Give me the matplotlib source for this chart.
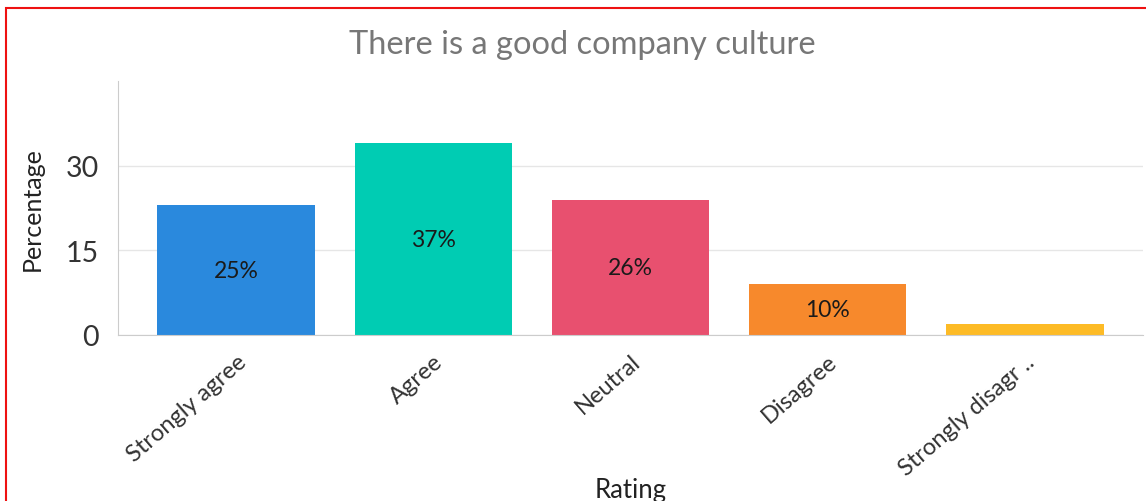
import matplotlib as mpl
import matplotlib.pyplot as plt
from matplotlib.patches import Rectangle

mpl.rcParams.update({"font.family": ["Lato", "DejaVu Sans"]})

# responses per rating; in-bar labels are each bar's share of the total
ratings = ["Strongly agree", "Agree", "Neutral", "Disagree", "Strongly disagr .."]
counts = [23, 34, 24, 9, 2]
colors = ["#2a89dd", "#00ccb3", "#e8506f", "#f7892c", "#fdbb26"]
yticks = [0, 15, 30]

fig = plt.figure(figsize=(11.46, 5.02), dpi=100)
ax = fig.add_axes([118 / 1146, 1 - 336 / 502, (1143 - 118) / 1146, (336 - 82) / 502])

x = range(len(ratings))
ax.bar(x, counts, width=0.8, color=colors, zorder=2)
total = sum(counts)
for i, c in enumerate(counts):
    if c / total >= 0.05:
        ax.text(i, c / 2, f"{c / total * 100:.0f}%", ha="center", va="center",
                fontsize=16.5, color="#1a1a1a", zorder=3)

ax.set_xlim(-0.6, 4.6)
ax.set_ylim(0, 45)
ax.set_yticks(yticks)
ax.set_yticklabels([str(t) for t in yticks], fontsize=20.5, color="#333333")
ax.set_xticks(list(x))
ax.set_xticklabels(ratings, rotation=41, ha="right", rotation_mode="anchor",
                   fontsize=17, color="#333333")
ax.tick_params(axis="y", length=0, pad=14)
ax.tick_params(axis="x", length=0, pad=11)
ax.grid(axis="y", color="#e6e6e6", lw=1, zorder=0)
for s in ("top", "right"):
    ax.spines[s].set_visible(False)
for s in ("left", "bottom"):
    ax.spines[s].set_color("#cccccc")
ax.set_ylabel("Percentage", fontsize=18, color="#222222")
ax.yaxis.set_label_coords(-0.072, 0.5)
fig.text(631 / 1146, 1 - 491 / 502, "Rating", ha="center", va="center",
         fontsize=18.5, color="#222222")

fig.text(582 / 1146, 1 - 45 / 502, "There is a good company culture", ha="center",
         va="center", fontsize=23.5, color="#777777")

# red frame around the panel, cropped on the right and bottom
fig.patches.append(Rectangle((6 / 1146, -0.1), 1.2, 1 - 9 / 502 + 0.1,
                             transform=fig.transFigure, fill=False,
                             ec="#ee1111", lw=1.5))

fig.savefig("out.png", dpi=100)
